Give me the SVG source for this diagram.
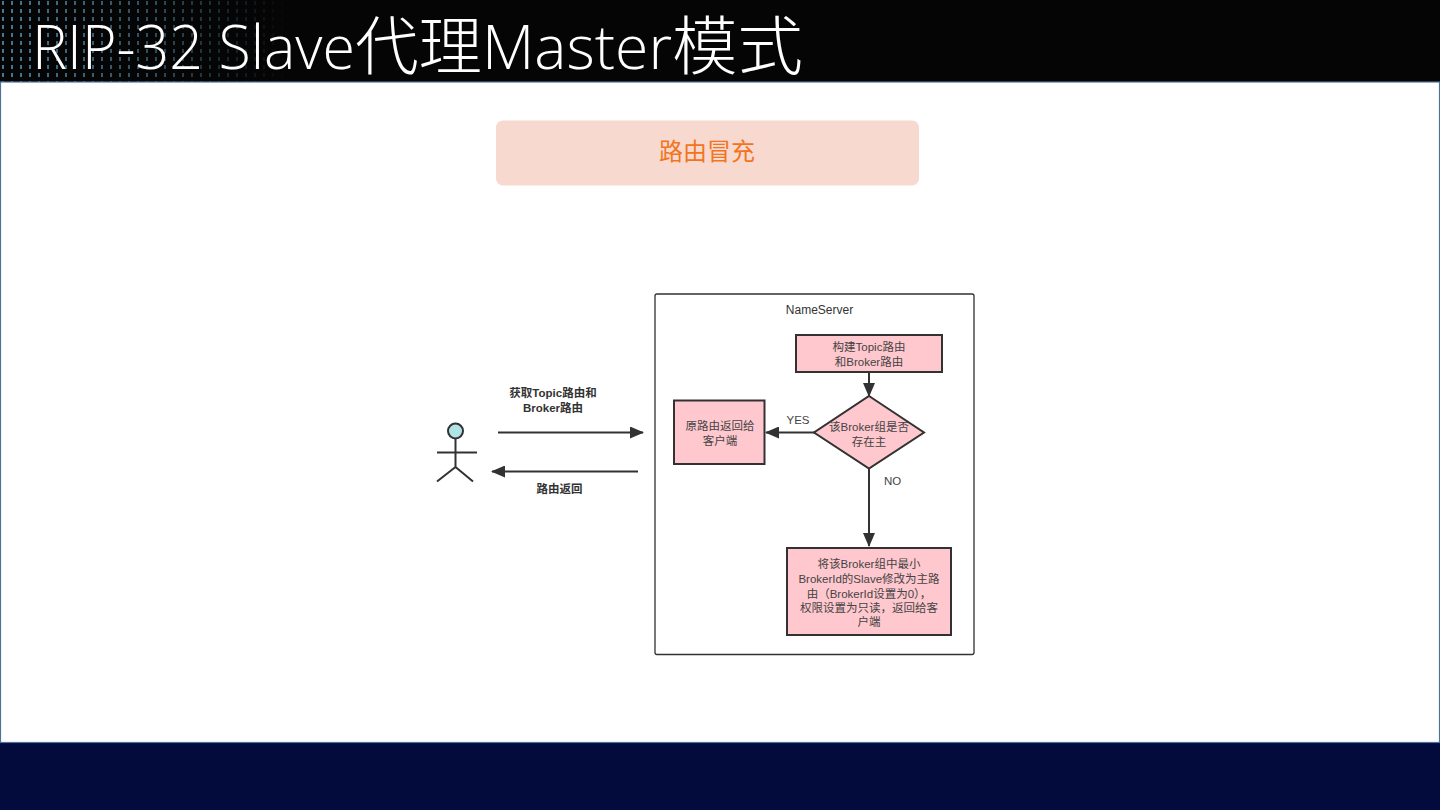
<svg xmlns="http://www.w3.org/2000/svg" width="1440" height="810" viewBox="0 0 1440 810">
<style>
.t{font-family:"Liberation Sans","Noto Sans CJK SC",sans-serif;font-size:11.5px;fill:#444;text-anchor:middle}
.b{font-weight:700;fill:#333}
.n{fill:#ffc7ce;stroke:#323232;stroke-width:2}
.c{fill:none;stroke:#323232;stroke-width:2}
.title{font-family:"Open Sans","Noto Sans CJK JP",sans-serif;font-weight:300;fill:#fff;font-size:60px}
</style>
<defs>
<marker id="a" viewBox="0 0 14 12" refX="13" refY="6" markerWidth="14" markerHeight="12" markerUnits="userSpaceOnUse" orient="auto"><path d="M0 0L14 6L0 12Z" fill="#323232"/></marker>
<pattern id="dots" width="9" height="8" patternUnits="userSpaceOnUse"><rect x="2" y="1" width="2" height="4" fill="#5aa0c8"/></pattern>
<linearGradient id="fade" x1="0" x2="1" y1="0" y2="0"><stop offset="0" stop-color="#fff" stop-opacity=".75"/><stop offset=".55" stop-color="#fff" stop-opacity=".45"/><stop offset="1" stop-color="#fff" stop-opacity="0"/></linearGradient>
<mask id="m"><rect x="0" y="0" width="290" height="82" fill="url(#fade)"/></mask>
</defs>
<g id="background">
<rect width="1440" height="810" fill="#050505"/>
<rect x="0" y="0" width="290" height="82" fill="url(#dots)" mask="url(#m)"/>
<rect x="0" y="742" width="1440" height="68" fill="#020b3c"/>
<rect x="0.5" y="82" width="1439" height="660.5" fill="#fff" stroke="#4f7299" stroke-width="1.2"/>
</g>
<text id="title" class="title" x="32" y="69"><tspan textLength="323" lengthAdjust="spacingAndGlyphs">RIP-32 Slave</tspan><tspan font-size="64" x="355" textLength="127" lengthAdjust="spacingAndGlyphs">代理</tspan><tspan x="482" textLength="190" lengthAdjust="spacingAndGlyphs">Master</tspan><tspan font-size="64" x="672" textLength="131" lengthAdjust="spacingAndGlyphs">模式</tspan></text>
<g id="banner">
<rect x="496" y="120.500" width="423" height="65" rx="7" fill="#f8d9d0"/>
<text x="707" y="160" style="font-family:'Noto Sans CJK SC',sans-serif;font-size:24px;fill:#f2751e;text-anchor:middle">路由冒充</text>
</g>
<g id="nameserver">
<rect x="655" y="294" width="319" height="360.500" rx="2" fill="#fff" stroke="#323232" stroke-width="1.300"/>
<text class="t" x="819.500" y="314" style="fill:#333;font-size:12px">NameServer</text>
</g>
<g id="connectors">
<path class="c" d="M498 432.500H643" marker-end="url(#a)"/>
<path class="c" d="M638 471.500H492" marker-end="url(#a)"/>
<path class="c" d="M869 372V396" marker-end="url(#a)"/>
<path class="c" d="M815 432.500H766" marker-end="url(#a)"/>
<path class="c" d="M869 468V546" marker-end="url(#a)"/>
<text class="t" x="798" y="424">YES</text>
<text class="t" x="892.500" y="485">NO</text>
<text class="t b" x="553" y="397">获取Topic路由和</text>
<text class="t b" x="553" y="412">Broker路由</text>
<text class="t b" x="559.500" y="493">路由返回</text>
</g>
<g id="actor" fill="none" stroke="#323232" stroke-width="2">
<circle cx="455.500" cy="431" r="7.500" fill="#b0e3e6"/>
<path d="M455.500 438.500V467M437 452.500H477M455.500 467L437 481.500M455.500 467L473 481.500"/>
</g>
<g id="build">
<rect class="n" x="796" y="335" width="146" height="37"/>
<text class="t" x="869" y="351">构建Topic路由</text>
<text class="t" x="869" y="366">和Broker路由</text>
</g>
<g id="decision">
<path class="n" d="M869 396L924 432.500L869 468.500L814 432.500Z"/>
<text class="t" x="869" y="431">该Broker组是否</text>
<text class="t" x="869" y="446">存在主</text>
</g>
<g id="original">
<rect class="n" x="674" y="400.500" width="90.500" height="63.500"/>
<text class="t" x="720" y="430">原路由返回给</text>
<text class="t" x="720" y="445">客户端</text>
</g>
<g id="promote">
<rect class="n" x="787" y="548" width="164" height="87"/>
<text class="t" x="869" y="568">将该Broker组中最小</text>
<text class="t" x="869" y="583">BrokerId的Slave修改为主路</text>
<text class="t" x="869" y="597.500">由（BrokerId设置为0），</text>
<text class="t" x="869" y="612">权限设置为只读，返回给客</text>
<text class="t" x="869" y="626">户端</text>
</g>
</svg>
